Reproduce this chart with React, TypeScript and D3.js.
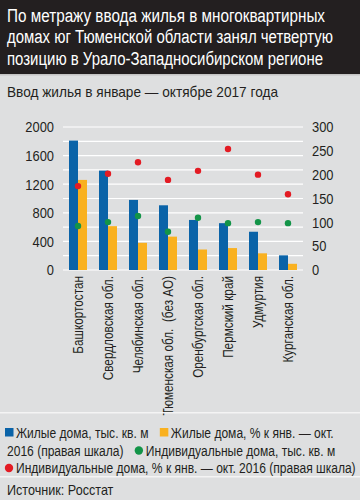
import * as d3 from 'd3';
import React, { useEffect, useRef } from 'react';

const categories = [
  'Башкортостан',
  'Свердловская обл.',
  'Челябинская обл.',
  'Тюменская обл.  (без АО)',
  'Оренбургская обл.',
  'Пермский край',
  'Удмуртия',
  'Курганская обл.',
];
// left scale, тыс. кв. м
const housingK = [1810, 1390, 980, 905, 700, 655, 535, 205];
const individualK = [615, 670, 755, 535, 730, 655, 670, 655];
// right scale, % к янв. — окт. 2016
const housingPct = [189, 92, 57, 70, 43, 46, 35, 13];
const individualPct = [176, 202, 226, 189, 208, 254, 200, 159];

const leftTicks = [0, 400, 800, 1200, 1600, 2000];
const rightTicks = [0, 50, 100, 150, 200, 250, 300];

const titleLines = [
  'По метражу ввода жилья в многоквартирных',
  'домах юг Тюменской области занял четвертую',
  'позицию в Урало-Западносибирском регионе',
];
const titleWidths = [318, 326, 316];
const subtitle = 'Ввод жилья в январе — октябре 2017 года';
const source = 'Источник: Росстат';

const BLUE = '#0a63a8';
const ORANGE = '#f9b120';
const GREEN = '#139448';
const RED = '#e31b23';

const legendItems = [
  { label: 'Жилые дома, тыс. кв. м', color: BLUE, shape: 'square' },
  { label: 'Жилые дома, % к янв. — окт.\n2016 (правая шкала)', color: ORANGE, shape: 'square' },
  { label: 'Индивидуальные дома, тыс. кв. м', color: GREEN, shape: 'circle' },
  { label: 'Индивидуальные дома, % к янв. — окт. 2016 (правая шкала)', color: RED, shape: 'circle' },
];

const FONT = '"Liberation Sans", Arial, sans-serif';
const W = 360;
const H = 500;

// squeeze text horizontally to imitate a condensed face
const condense = (sel: any, k: number) => {
  sel.each(function (this: SVGTextElement) {
    const w = this.getComputedTextLength();
    d3.select(this).attr('textLength', w * k).attr('lengthAdjust', 'spacingAndGlyphs');
  });
};

const App = () => {
  const svgRef = useRef(null);

  const renderSvg = () => {
    const svg = d3.select(svgRef.current);
    svg.selectAll('*').remove();
    svg.style('font-family', FONT);

    svg.append('rect').attr('width', W).attr('height', H).attr('fill', '#dedfe0');
    svg.append('rect').attr('width', W).attr('height', 74).attr('fill', '#231f20');
    svg.append('rect').attr('y', 74).attr('width', W).attr('height', 1.5).attr('fill', '#c4c4c4');

    svg
      .append('g')
      .selectAll('text')
      .data(titleLines)
      .enter()
      .append('text')
      .attr('x', 7)
      .attr('y', (d, i) => 21.5 + i * 21.5)
      .attr('fill', '#ffffff')
      .attr('textLength', (d, i) => titleWidths[i])
      .attr('lengthAdjust', 'spacingAndGlyphs')
      .style('font-size', '18px')
      .text((d) => d);

    svg
      .append('text')
      .attr('x', 7)
      .attr('y', 97)
      .attr('fill', '#231f20')
      .attr('textLength', 271)
      .attr('lengthAdjust', 'spacingAndGlyphs')
      .style('font-size', '15px')
      .text(subtitle);

    const top = 127;
    const bottom = 270;
    const x = d3.scaleBand().domain(categories).range([63, 303]);
    const yL = d3.scaleLinear().domain([0, 2000]).range([bottom, top]);
    const yR = d3.scaleLinear().domain([0, 300]).range([bottom, top]);

    // gridlines
    svg
      .append('g')
      .selectAll('line')
      .data(d3.range(0, 2001, 200))
      .enter()
      .append('line')
      .attr('x1', 63)
      .attr('x2', 303)
      .attr('y1', (d) => yL(d))
      .attr('y2', (d) => yL(d))
      .attr('stroke', '#ffffff')
      .attr('stroke-width', 1.2);

    const axisL = svg
      .append('g')
      .attr('transform', 'translate(54,0)')
      .call(d3.axisLeft(yL).tickValues(leftTicks).tickFormat(d3.format('d')).tickSize(0).tickPadding(0));
    const axisR = svg
      .append('g')
      .attr('transform', 'translate(312,0)')
      .call(d3.axisRight(yR).tickValues(rightTicks).tickFormat(d3.format('d')).tickSize(0).tickPadding(0));
    [axisL, axisR].forEach((a) => {
      a.select('.domain').remove();
      a.selectAll('text')
        .style('font-family', FONT)
        .style('font-size', '15px')
        .attr('fill', '#231f20')
        .call(condense, 0.86);
    });

    const bw = 9;
    const g = svg.append('g');
    g.selectAll('rect.blue')
      .data(housingK)
      .enter()
      .append('rect')
      .attr('class', 'blue')
      .attr('x', (d, i) => x(categories[i]) + x.bandwidth() / 2 - bw)
      .attr('y', (d) => yL(d))
      .attr('width', bw)
      .attr('height', (d) => bottom - yL(d))
      .attr('fill', BLUE);
    g.selectAll('rect.orange')
      .data(housingPct)
      .enter()
      .append('rect')
      .attr('class', 'orange')
      .attr('x', (d, i) => x(categories[i]) + x.bandwidth() / 2)
      .attr('y', (d) => yR(d))
      .attr('width', bw)
      .attr('height', (d) => bottom - yR(d))
      .attr('fill', ORANGE);

    g.selectAll('circle.green')
      .data(individualK)
      .enter()
      .append('circle')
      .attr('class', 'green')
      .attr('cx', (d, i) => x(categories[i]) + x.bandwidth() / 2)
      .attr('cy', (d) => yL(d))
      .attr('r', 3.2)
      .attr('fill', GREEN);
    g.selectAll('circle.red')
      .data(individualPct)
      .enter()
      .append('circle')
      .attr('class', 'red')
      .attr('cx', (d, i) => x(categories[i]) + x.bandwidth() / 2)
      .attr('cy', (d) => yR(d))
      .attr('r', 3.2)
      .attr('fill', RED);

    // category labels
    svg
      .append('g')
      .selectAll('text')
      .data(categories)
      .enter()
      .append('text')
      .attr('transform', (d) => `translate(${x(d) + x.bandwidth() / 2 + 5},276) rotate(-90)`)
      .attr('text-anchor', 'end')
      .attr('fill', '#231f20')
      .style('font-size', '14px')
      .style('white-space', 'pre')
      .text((d) => d)
      .call(condense, 0.84);

    // legend
    svg.append('rect').attr('y', 412).attr('width', W).attr('height', 1.5).attr('fill', '#f4f4f4');
    svg.append('rect').attr('y', 476).attr('width', W).attr('height', 1.5).attr('fill', '#f4f4f4');

    const K = 0.86;
    const leg = svg.append('g').style('font-size', '14px').attr('fill', '#231f20');
    const maxX = 358;
    const lineH = 17.5;
    const x0 = 5;
    let cx = x0;
    let cy = 438;
    const measure = leg.append('text').attr('visibility', 'hidden');
    const widthOf = (s: string) => {
      measure.text(s);
      return (measure.node() as SVGTextElement).getComputedTextLength() * K;
    };
    const space = widthOf('a a') - widthOf('aa');
    legendItems.forEach((item) => {
      const mw = 11;
      if (cx + mw + widthOf(item.label.split(' ')[0]) > maxX) {
        cx = x0;
        cy += lineH;
      }
      if (item.shape === 'square') {
        leg.append('rect').attr('x', cx).attr('y', cy - 10).attr('width', 8.5).attr('height', 8.5).attr('fill', item.color);
      } else {
        leg.append('circle').attr('cx', cx + 4).attr('cy', cy - 5).attr('r', 4.2).attr('fill', item.color);
      }
      cx += mw;
      item.label.split('\n').forEach((part, pi) => {
        if (pi > 0) {
          cx = x0 + 2;
          cy += lineH;
        }
        part.split(' ').forEach((word, wi) => {
          const ww = widthOf(word);
          if (wi > 0) {
            if (cx + space + ww > maxX) {
              cx = x0 + 2;
              cy += lineH;
            } else {
              cx += space;
            }
          }
          leg.append('text').attr('x', cx).attr('y', cy).attr('textLength', ww).attr('lengthAdjust', 'spacingAndGlyphs').text(word);
          cx += ww;
        });
      });
      cx += space + 8;
    });
    measure.remove();

    svg
      .append('text')
      .attr('x', 7)
      .attr('y', 495)
      .attr('fill', '#231f20')
      .style('font-size', '15px')
      .text(source)
      .call(condense, 0.84);
  };

  useEffect(() => {
    renderSvg();
  }, []);

  return (
    <svg
      ref={svgRef}
      width={W}
      height={H}
      style={{ position: 'absolute', left: 0, top: 0, display: 'block' }}
    />
  );
};

export default App;
